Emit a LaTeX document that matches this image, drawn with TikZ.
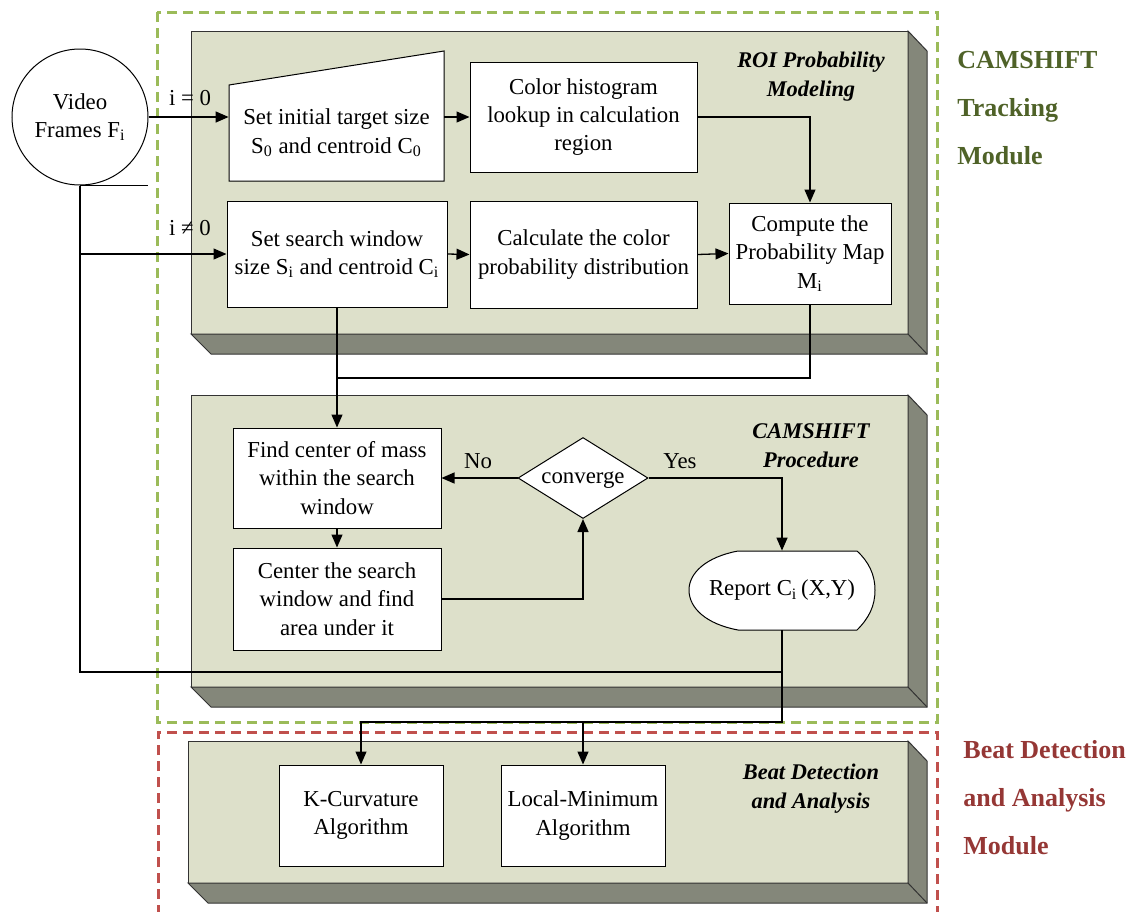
\documentclass[tikz,border=0pt]{standalone}
\usepackage{fontspec}
\setmainfont{Liberation Serif}
\usetikzlibrary{shapes.geometric,arrows.meta,calc}
\definecolor{panelfill}{HTML}{DDE0CA}
\definecolor{panelshade}{HTML}{84877A}
\definecolor{gdash}{HTML}{9BBB59}
\definecolor{rdash}{HTML}{C0504D}
\definecolor{gtext}{HTML}{4F6228}
\definecolor{rtext}{HTML}{953735}
\newcommand{\boxfont}{\fontsize{11.4}{14.2}\selectfont}
\newcommand{\mypanel}[4]{%
  \filldraw[fill=panelfill,draw=black!80,line width=0.5pt] (#1,#2) rectangle (#3,#4);
  \filldraw[fill=panelshade,draw=black!80,line width=0.5pt] (#3,#2) -- ++(19,20) -- ($(#3,#4)+(19,20)$) -- ($(#1,#4)+(20,20)$) -- (#1,#4) -- (#3,#4) -- cycle;
  \draw[black!80,line width=0.5pt] (#3,#4) -- ++(19,20);
}
\begin{document}
\begin{tikzpicture}[x=0.5pt,y=-0.5pt,
  box/.style={draw, fill=white, line width=0.5pt, inner sep=0pt, align=center, font=\boxfont},
  plain/.style={inner sep=0pt, align=center, font=\boxfont},
  arr/.style={-{Triangle[length=6.5pt,width=5.5pt]}, line width=0.65pt},
  ln/.style={line width=0.65pt},
  modframe/.style={line width=1.5pt, dash pattern=on 5pt off 3pt},
  ptitle/.style={inner sep=0pt, align=center, font=\fontsize{11.2}{14.5}\selectfont\bfseries\itshape},
  mtitle/.style={inner sep=0pt, align=left, anchor=west, font=\fontsize{13}{24}\selectfont\bfseries}]
\useasboundingbox (0,0) rectangle (1141,911);
% panels
\mypanel{191}{31}{908}{334}
\mypanel{191}{395}{908}{687}
\mypanel{188}{741}{908}{883}
% module frames
\draw[gdash, modframe] (157,12) rectangle (937,722);
\draw[rdash, modframe] (158,915) -- (158,732) -- (937,732) -- (937,915);
% panel titles
\node[ptitle] (t1) at (811,77) {ROI Probability\\Modeling};
\node[ptitle] (t2) at (811,446) {CAMSHIFT\\Procedure};
\node[ptitle] (t3) at (811,789) {Beat Detection\\and Analysis};
\node[mtitle, text=gtext] (m1) at (957,108) {CAMSHIFT\\Tracking\\Module};
\node[mtitle, text=rtext] (m2) at (963,798) {Beat Detection\\and Analysis\\Module};
% nodes
\node[circle, draw, line width=0.5pt, fill=white, minimum size=68pt, inner sep=0pt, align=center, font=\boxfont] (video) at (80,117) {Video\\Frames F\textsubscript{i}};
\filldraw[fill=white, line width=0.5pt] (229,85) -- (444,51) -- (444,181) -- (229,181) -- cycle;
\node[plain, minimum width=107.5pt, minimum height=48pt] (init) at (336.5,133) {Set initial target size\\S\textsubscript{0} and centroid C\textsubscript{0}};
\node[box, minimum width=113.5pt, minimum height=55pt] (hist) at (583.5,117) {Color histogram\\lookup in calculation\\region};
\node[box, minimum width=81pt, minimum height=50.5pt] (comp) at (810,253.5) {Compute the\\Probability Map\\M\textsubscript{i}};
\node[box, minimum width=110pt, minimum height=53pt] (search) at (337,254) {Set search window\\size S\textsubscript{i} and centroid C\textsubscript{i}};
\node[box, minimum width=113.5pt, minimum height=53.5pt] (calc) at (583.5,254.5) {Calculate the color\\probability distribution};
\node[box, minimum width=104pt, minimum height=50pt] (find) at (337,478) {Find center of mass\\within the search\\window};
\node[box, minimum width=104pt, minimum height=51pt] (cent) at (337,599) {Center the search\\window and find\\area under it};
\node[diamond, draw, fill=white, line width=0.5pt, aspect=1.6, inner sep=0pt, text depth=0pt, minimum width=65pt, minimum height=40.5pt, font=\boxfont] (conv) at (583,478) {converge};
\filldraw[fill=white, line width=0.5pt] (738,551) -- (857,551) .. controls (869,562) and (875,575) .. (875,590) .. controls (875,606) and (869,618) .. (857,630) -- (738,630) .. controls (706,624) and (689,608) .. (689,590) .. controls (689,573) and (706,557) .. (738,551) -- cycle;
\node[plain, minimum width=93pt, minimum height=39.5pt] (rep) at (782,590.5) {Report C\textsubscript{i}\,(X,Y)};
\node[box, minimum width=82pt, minimum height=50.5pt] (kc) at (361,815.5) {K-Curvature\\Algorithm};
\node[box, minimum width=82pt, minimum height=50.5pt] (lm) at (583,815.5) {Local-Minimum\\Algorithm};
% coordinates
\coordinate (fb) at (782,672);
\coordinate (j1) at (782,722);
\coordinate (j2) at (337,378);
% connectors
\draw[arr] (video.east) -- (video.east -| init.west);
\node[plain] (l0) at (190,98) {i = 0};
\draw[ln] (video.south) -- ++(68,0);
\draw[ln] (video.south) |- (fb);
\draw[arr] (video.south |- search.west) -- (search.west);
\node[plain] (l1) at (190,228) {i ≠ 0};
\draw[arr] (init.east |- hist.west) -- (hist.west);
\draw[arr] (hist.east) -| (comp.north);
\draw[arr] (search.east) -- (calc.west);
\draw[arr] (calc.east) -- (comp.west);
\draw[ln] (comp.south) |- (j2);
\draw[arr] (search.south) -- (find.north);
\draw[arr] (find.south) -- (cent.north);
\draw[arr] (conv.west) -- (find.east);
\node[plain] (lno) at (478,461) {No};
\draw[arr] (conv.east) -| (rep.north);
\node[plain] (lyes) at (680,461) {Yes};
\draw[arr] (cent.east) -| (conv.south);
\draw[arr] (rep.south) -- (j1) -| (kc.north);
\draw[arr] (lm.north |- j1) -- (lm.north);
\end{tikzpicture}
\end{document}
